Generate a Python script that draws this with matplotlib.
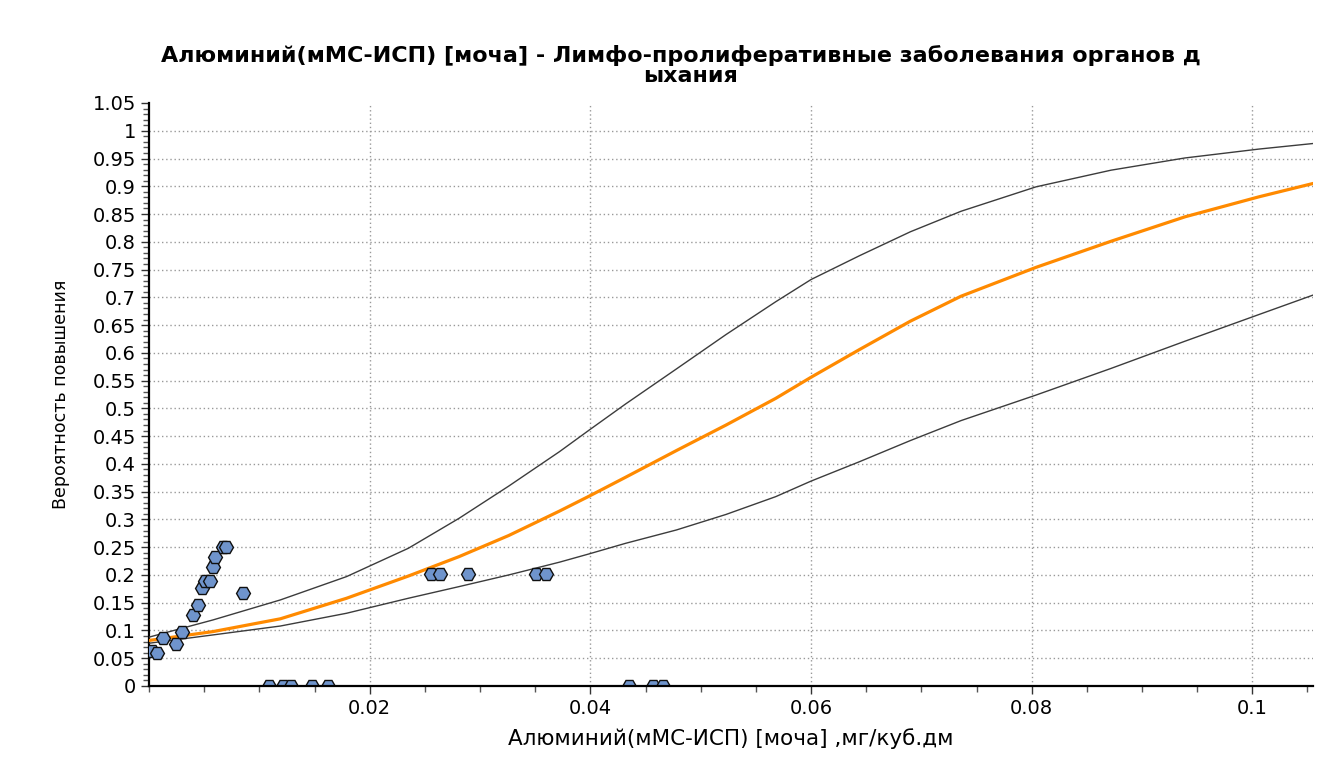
import numpy as np
import matplotlib
matplotlib.use("Agg")
import matplotlib.pyplot as plt
from matplotlib.ticker import MultipleLocator, FuncFormatter

# scatter points (x = concentration, y = probability)
pts_x = [0.0003, 0.0007, 0.0013, 0.0024, 0.0030, 0.0040, 0.0044, 0.0048, 0.0051, 0.0055,
         0.0058, 0.0060, 0.0067, 0.0070, 0.0085,
         0.0256, 0.0264, 0.0289, 0.0351, 0.0360,
         0.0109, 0.0121, 0.0129, 0.0148, 0.0162, 0.0435, 0.0457, 0.0466]
pts_y = [0.063, 0.059, 0.086, 0.076, 0.098, 0.128, 0.145, 0.176, 0.190, 0.190,
         0.215, 0.232, 0.251, 0.251, 0.167,
         0.202, 0.202, 0.202, 0.202, 0.202,
         0.0, 0.0, 0.0, 0.0, 0.0, 0.0, 0.0, 0.0]

# model curve and its bounds
curve_x = [0.0000, 0.0058, 0.0119, 0.0179, 0.0235, 0.0281, 0.0326, 0.0372, 0.0399, 0.0432,
           0.0478, 0.0523, 0.0568, 0.0600, 0.0644, 0.0690, 0.0736, 0.0804, 0.0872, 0.0939,
           0.1006, 0.1055]
mid_y = [0.082, 0.098, 0.121, 0.158, 0.198, 0.233, 0.271, 0.315, 0.342, 0.376,
         0.424, 0.470, 0.518, 0.556, 0.606, 0.657, 0.702, 0.754, 0.801, 0.845,
         0.881, 0.905]
upper_y = [0.088, 0.119, 0.155, 0.197, 0.248, 0.302, 0.360, 0.422, 0.461, 0.508,
           0.571, 0.633, 0.692, 0.732, 0.775, 0.818, 0.855, 0.899, 0.929, 0.951,
           0.967, 0.977]
lower_y = [0.077, 0.092, 0.108, 0.131, 0.158, 0.179, 0.200, 0.223, 0.238, 0.257,
           0.281, 0.309, 0.341, 0.369, 0.404, 0.442, 0.478, 0.524, 0.572, 0.621,
           0.669, 0.704]

title_line1 = "Алюминий(мМС-ИСП) [моча] - Лимфо-пролиферативные заболевания органов д"
title_line2 = "ыхания"
xlabel = "Алюминий(мМС-ИСП) [моча] ,мг/куб.дм"
ylabel = "Вероятность повышения"

plt.rcParams['font.family'] = ['DejaVu Sans']

fig = plt.figure(figsize=(13.33, 7.72), dpi=100)
ax = fig.add_axes([0.1118, 0.1114, 0.985 - 0.1118, 0.8666 - 0.1114])

# curves
ax.plot(curve_x, upper_y, color='#3c3c3c', lw=1.0, zorder=3)
ax.plot(curve_x, lower_y, color='#3c3c3c', lw=1.0, zorder=3)
ax.plot(curve_x, mid_y, color='#ff8a00', lw=2.3, zorder=4)

# points
ax.plot(pts_x, pts_y, linestyle='none', marker='H', markersize=10,
        markerfacecolor='#6f94cc', markeredgecolor='#101010', markeredgewidth=1.0,
        zorder=5)

ax.set_xlim(0, 0.1055)
ax.set_ylim(0, 1.05)

ax.set_xticks([0.02, 0.04, 0.06, 0.08, 0.1])
ax.xaxis.set_minor_locator(MultipleLocator(0.005))
ax.set_yticks(np.arange(0, 1.0501, 0.05))
ax.yaxis.set_minor_locator(MultipleLocator(0.01))
ax.xaxis.set_major_formatter(FuncFormatter(lambda v, p: f"{v:g}"))
ax.yaxis.set_major_formatter(FuncFormatter(lambda v, p: f"{round(v, 2):g}"))

ax.tick_params(axis='both', which='major', labelsize=14, length=6, width=1, color='#333333')
ax.tick_params(axis='both', which='minor', length=4, width=1, color='#555555')

# dotted grid, no line along the top edge
ax.grid(True, which='major', linestyle=(0, (1, 2)), color='#999999', lw=1.0)
ax.yaxis.get_gridlines()[-1].set_visible(False)
ax.set_axisbelow(True)

for s in ['top', 'right']:
    ax.spines[s].set_visible(False)
ax.spines['left'].set_linewidth(1.6)
ax.spines['bottom'].set_linewidth(1.6)
ax.spines['bottom'].set_zorder(6)

ax.set_xlabel(xlabel, fontsize=15.5)
ax.set_ylabel(ylabel, fontsize=12.5)
ax.xaxis.set_label_coords(0.5, -0.072)
ax.yaxis.set_label_coords(-0.068, 0.5)

fig.text(0.511, 0.928, title_line1, ha='center', va='center', fontsize=16, fontweight='bold')
fig.text(0.518, 0.902, title_line2, ha='center', va='center', fontsize=16, fontweight='bold')

fig.savefig('out.png', dpi=100)
